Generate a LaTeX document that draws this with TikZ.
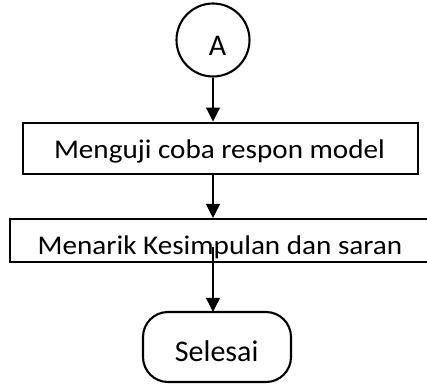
\documentclass[tikz,border=0pt]{standalone}
\usepackage{fontspec}
\setmainfont{Carlito}
\newfontfamily\widefont[FakeStretch=1.08]{Carlito}
\usetikzlibrary{arrows.meta}
\begin{document}
\begin{tikzpicture}[x=1pt,y=-1pt,
  label text/.style={inner sep=0pt, anchor=base, font=\fontsize{30}{36}\selectfont},
  step text/.style={inner sep=0pt, anchor=base, font=\widefont\fontsize{27}{32}\selectfont},
  border/.style={draw=black, line width=2.1pt, inner sep=0pt},
  procbox/.style={border, rectangle},
  connector/.style={draw=black, line width=1.2pt},
  flow/.style={connector, -{Triangle[length=14pt,width=14pt]}},
  ]
  \useasboundingbox (0,0) rectangle (427,383);

  % connector circle
  \node[border, circle, minimum size=73pt] (conA) at (213,40) {};
  \node[label text] (conAtext) at (217.5,55.7) {A};

  % process steps
  \node[procbox, minimum width=395pt, minimum height=51.5pt] (uji) at (220.3,148.3) {};
  \node[step text] (ujitext) at (219.5,158.3) {Menguji coba respon model};

  \node[procbox, minimum width=423pt, minimum height=43pt, anchor=west] (tarik) at (9.3,240.5) {};
  \node[step text] (tariktext) at (220,254.7) {Menarik Kesimpulan dan saran};

  % terminator
  \draw[border, rounded corners=25pt] (143,312) rectangle (291,382);
  \node[minimum width=148pt, minimum height=70pt, inner sep=0pt] (selesai) at (217,347) {};
  \node[label text] (selesaitext) at (216.7,361) {Selesai};

  % flow lines
  \coordinate (tarikout) at (213,247);
  \draw[flow] (conA.south) -- (uji.north -| conA.south);
  \draw[flow] (uji.south -| conA.south) -- (tarik.north -| conA.south);
  \draw[flow] (tarikout) -- (selesai.north -| tarikout);
\end{tikzpicture}
\end{document}
